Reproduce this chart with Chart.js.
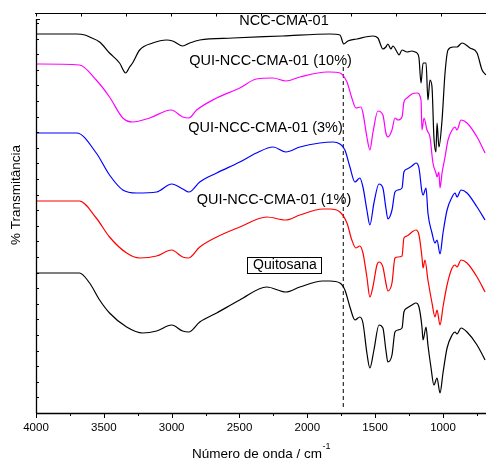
<!DOCTYPE html>
<html>
<head>
<meta charset="utf-8">
<script src="https://cdn.jsdelivr.net/npm/chart.js"></script>
<style>
  html, body { margin: 0; padding: 0; background: #fff; }
  #chart { display: block; }
</style>
</head>
<body>
<canvas id="chart" width="486" height="462"></canvas>
<script>
// --- datos (número de onda / transmitância relativa com deslocamento) ---
const nccX = [4000, 3700, 3640, 3605, 3531, 3458, 3384, 3339, 3310, 3288, 3236, 3140, 3037, 2993, 2919, 2867, 2793, 2550, 2181, 1834, 1760, 1731, 1701, 1635, 1517, 1480, 1443, 1421, 1406, 1384, 1369, 1339, 1324, 1302, 1265, 1229, 1206, 1192, 1177, 1162, 1147, 1125, 1111, 1096, 1081, 1067, 1052, 1044, 1030, 1007, 985, 963, 926, 897, 860, 801, 749, 712, 683];
const nccY = [379, 379, 378, 376, 371, 360, 350, 340, 346, 350, 363, 370, 373, 372, 367, 370, 373, 375, 377, 379, 378, 369, 372, 374, 377, 375, 364, 366, 369, 364, 367, 361, 358, 363, 361, 362, 361, 360, 355, 330, 350, 350, 313, 333, 326, 276, 261, 290, 266, 293, 340, 363, 366, 366, 370, 365, 360, 343, 338];

const qui10X = [4000, 3680, 3556, 3458, 3360, 3288, 3162, 3003, 2918, 2873, 2816, 2668, 2498, 2375, 2252, 2158, 2055, 1856, 1834, 1760, 1708, 1672, 1642, 1605, 1590, 1561, 1539, 1517, 1480, 1443, 1421, 1406, 1376, 1354, 1332, 1302, 1288, 1265, 1229, 1192, 1162, 1155, 1140, 1118, 1096, 1074, 1052, 1044, 1030, 1022, 1007, 985, 963, 933, 911, 897, 867, 823, 749, 690];
const qui10Y = [349, 348, 333, 316, 295, 291, 295, 303, 296, 295, 303, 315, 325, 334, 335, 332, 336, 341, 341, 340, 331, 315, 305, 306, 300, 276, 263, 280, 302, 298, 280, 276, 283, 295, 293, 296, 311, 315, 319, 320, 313, 283, 295, 283, 276, 250, 240, 236, 241, 225, 240, 256, 273, 283, 286, 283, 293, 290, 276, 260];

const qui3X = [4000, 3700, 3556, 3458, 3360, 3258, 3111, 3000, 2918, 2873, 2793, 2668, 2498, 2375, 2252, 2158, 2055, 1908, 1812, 1760, 1723, 1686, 1649, 1613, 1590, 1561, 1539, 1509, 1472, 1443, 1421, 1406, 1376, 1354, 1332, 1302, 1288, 1265, 1229, 1199, 1177, 1155, 1147, 1125, 1111, 1081, 1059, 1044, 1022, 1000, 970, 933, 911, 897, 867, 823, 749, 690];
const qui3Y = [280, 280, 260, 238, 223, 220, 221, 229, 224, 221, 231, 240, 251, 260, 266, 261, 266, 270, 271, 269, 263, 246, 231, 235, 226, 203, 188, 210, 229, 225, 205, 194, 203, 221, 223, 225, 241, 244, 247, 250, 245, 221, 218, 225, 200, 180, 170, 173, 159, 180, 203, 216, 220, 216, 223, 220, 206, 193];

const qui1X = [4000, 3680, 3556, 3458, 3332, 3236, 3111, 3000, 2919, 2875, 2793, 2668, 2498, 2299, 2159, 2055, 1886, 1834, 1760, 1708, 1672, 1642, 1613, 1590, 1561, 1539, 1517, 1487, 1472, 1443, 1421, 1406, 1376, 1354, 1332, 1302, 1288, 1265, 1229, 1199, 1177, 1155, 1147, 1133, 1111, 1081, 1059, 1044, 1022, 1000, 970, 933, 911, 897, 867, 823, 749, 690];
const qui1Y = [212, 212, 195, 176, 160, 155, 157, 163, 156, 155, 166, 176, 186, 196, 193, 198, 204, 204, 201, 190, 173, 165, 167, 160, 136, 116, 126, 148, 151, 146, 130, 122, 130, 155, 156, 157, 175, 177, 181, 183, 178, 156, 145, 153, 133, 110, 96, 103, 88, 106, 128, 145, 148, 146, 153, 150, 136, 121];

const quitX = [4000, 3680, 3605, 3531, 3458, 3332, 3214, 3111, 3000, 2919, 2875, 2793, 2668, 2498, 2299, 2159, 2055, 1886, 1834, 1760, 1723, 1686, 1649, 1613, 1590, 1561, 1539, 1509, 1472, 1443, 1421, 1406, 1376, 1354, 1332, 1302, 1288, 1265, 1229, 1199, 1177, 1155, 1147, 1125, 1111, 1089, 1067, 1044, 1022, 1000, 970, 933, 911, 897, 867, 823, 749, 690];
const quitY = [140, 140, 130, 113, 100, 86, 80, 82, 88, 82, 81, 91, 100, 113, 126, 121, 126, 132, 132, 130, 123, 106, 93, 96, 90, 60, 45, 63, 88, 85, 63, 51, 58, 81, 83, 85, 101, 105, 108, 110, 106, 86, 73, 86, 68, 46, 28, 35, 20, 40, 65, 78, 81, 79, 85, 81, 68, 53];

// linha tracejada (C=O ~1735 cm-1)
const refLineX = [1735, 1735];
const refLineY = [346, 6];

const tickValues = [4000, 3750, 3500, 3250, 3000, 2750, 2500, 2250, 2000, 1750, 1500, 1250, 1000, 750];
const labelEvery = 500;

const seriesNames = ['NCC-CMA-01', 'QUI-NCC-CMA-01 (10%)', 'QUI-NCC-CMA-01 (3%)', 'QUI-NCC-CMA-01 (1%)', 'Quitosana'];
const seriesColors = ['#000000', '#ff00ff', '#0000ff', '#ff0000', '#000000'];

function toPoints(xs, ys) {
  return xs.map((x, i) => ({ x: x, y: ys[i] }));
}

const FONT = '"Liberation Sans", Arial, sans-serif';

// eixos, marcas e textos no estilo Origin
const decorPlugin = {
  id: 'decor',
  afterDraw(chart) {
    const ctx = chart.ctx;
    const a = chart.chartArea;
    const xs = chart.scales.x;
    ctx.save();
    ctx.strokeStyle = '#000';
    ctx.fillStyle = '#000';
    ctx.lineWidth = 1;

    // linha superior com marcas
    ctx.beginPath();
    ctx.moveTo(a.left - 1, 13.5);
    ctx.lineTo(a.right, 13.5);
    for (let k = 0; k <= 10; k++) {
      const px = Math.round(a.left + k * (a.right - a.left) / 10) + 0.5;
      ctx.moveTo(px, 13.5);
      ctx.lineTo(px, 16.5);
    }
    ctx.stroke();

    // eixo esquerdo
    ctx.lineWidth = 1.3;
    ctx.beginPath();
    ctx.moveTo(a.left + 0.5, 19);
    ctx.lineTo(a.left + 0.5, a.bottom);
    ctx.stroke();
    ctx.lineWidth = 1;
    ctx.beginPath();
    ctx.moveTo(a.left, 19.5);
    ctx.lineTo(a.left + 4, 19.5);
    for (let py = a.bottom - 15.6; py > 22; py -= 15.6) {
      const y = Math.round(py) + 0.5;
      ctx.moveTo(a.left, y);
      ctx.lineTo(a.left + 3, y);
    }
    ctx.stroke();

    // eixo inferior
    ctx.lineWidth = 1.3;
    ctx.beginPath();
    ctx.moveTo(a.left, a.bottom + 0.5);
    ctx.lineTo(a.right, a.bottom + 0.5);
    ctx.stroke();
    ctx.lineWidth = 1;
    ctx.beginPath();
    tickValues.forEach(v => {
      const px = Math.round(xs.getPixelForValue(v)) + 0.5;
      const len = v % labelEvery === 0 ? 5 : 3;
      ctx.moveTo(px, a.bottom);
      ctx.lineTo(px, a.bottom + len);
    });
    ctx.stroke();

    ctx.font = '11.5px ' + FONT;
    ctx.textAlign = 'center';
    ctx.textBaseline = 'middle';
    tickValues.forEach(v => {
      if (v % labelEvery === 0) {
        ctx.fillText(String(v), xs.getPixelForValue(v), 428);
      }
    });

    // título do eixo x com expoente
    ctx.font = '13.5px ' + FONT;
    const base = 'Número de onda / cm';
    const sup = '-1';
    const wBase = ctx.measureText(base).width;
    ctx.font = '9px ' + FONT;
    const wSup = ctx.measureText(sup).width;
    const startX = (a.left + a.right) / 2 - (wBase + wSup) / 2;
    ctx.textAlign = 'left';
    ctx.font = '13.5px ' + FONT;
    ctx.fillText(base, startX, 454);
    ctx.font = '9px ' + FONT;
    ctx.fillText(sup, startX + wBase + 0.5, 447);

    // título do eixo y
    ctx.save();
    ctx.translate(16, 195);
    ctx.rotate(-Math.PI / 2);
    ctx.textAlign = 'center';
    ctx.font = '13.5px ' + FONT;
    ctx.fillText('% Transmitância', 0, 0);
    ctx.restore();

    // rótulos das curvas
    ctx.font = '14.5px ' + FONT;
    ctx.textAlign = 'center';
    ctx.fillText(seriesNames[0], 284, 21);
    ctx.fillText(seriesNames[1], 270.5, 61);
    ctx.fillText(seriesNames[2], 265.5, 128);
    ctx.fillText(seriesNames[3], 274, 200);
    ctx.font = '14px ' + FONT;
    ctx.fillText(seriesNames[4], 285, 265.5);
    ctx.strokeRect(247.5, 257.5, 74, 16);
    ctx.restore();
  }
};

const datasets = [
  [nccX, nccY], [qui10X, qui10Y], [qui3X, qui3Y], [qui1X, qui1Y], [quitX, quitY]
].map((s, i) => ({
  label: seriesNames[i],
  data: toPoints(s[0], s[1]),
  borderColor: seriesColors[i],
  borderWidth: 1.2,
  pointRadius: 0,
  fill: false,
  cubicInterpolationMode: 'monotone'
}));

datasets.push({
  label: 'ref',
  data: toPoints(refLineX, refLineY),
  borderColor: '#000',
  borderWidth: 1,
  borderDash: [4, 3],
  pointRadius: 0,
  fill: false
});

new Chart(document.getElementById('chart'), {
  type: 'line',
  data: { datasets: datasets },
  options: {
    responsive: false,
    animation: false,
    layout: { padding: { left: 36, right: 0, top: 14, bottom: 49 } },
    plugins: { legend: { display: false }, tooltip: { enabled: false } },
    scales: {
      x: { type: 'linear', min: 683, max: 4000, reverse: true, display: false },
      y: { type: 'linear', min: 0, max: 399, display: false }
    }
  },
  plugins: [decorPlugin]
});
</script>
</body>
</html>
